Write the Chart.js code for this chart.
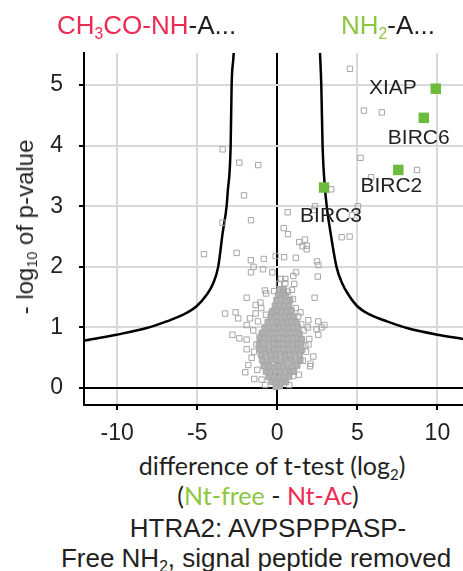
<!DOCTYPE html>
<html>
<head>
<meta charset="utf-8">
<script src="https://cdn.jsdelivr.net/npm/chart.js@4.4.0/dist/chart.umd.min.js"></script>
<style>
  body { margin: 0; width: 463px; height: 571px; background: #fff; overflow: hidden; position: relative; font-family: "Liberation Sans", Arial, sans-serif; color: #231f20; }
  #wrap { position: absolute; left: 0; top: 0; width: 463px; height: 450px; }
  .t { position: absolute; white-space: nowrap; transform: translateX(-50%); }
  .red { color: #ec2a52; }
  .green { color: #8dc63f; }
  sub { font-size: 0.6em; vertical-align: -0.3em; line-height: 0; }
</style>
</head>
<body>
<div id="wrap"><canvas id="volcano" width="463" height="450"></canvas></div>

<div style="position:absolute; left:57px; top:12px; font-size:26px; line-height:26px; white-space:nowrap;"><span class="red">CH<sub>3</sub>CO-NH</span>-A...</div>
<div style="position:absolute; left:341px; top:12px; font-size:26px; line-height:26px; white-space:nowrap;"><span class="green">NH<sub>2</sub></span>-A...</div>

<div style="position:absolute; left:25px; top:227px; font-size:24px; line-height:26px; white-space:nowrap; transform: translate(-50%,-50%) rotate(-90deg);">- log<sub>10</sub> of p-value</div>

<div class="t" style="left:272px; top:451px; font-family: Lato, 'Open Sans', sans-serif; font-size:25px; line-height:28px;">difference of t-test (log<sub>2</sub>)</div>
<div class="t" style="left:268px; top:481px; font-family: Lato, 'Open Sans', sans-serif; font-size:25px; line-height:28px;">(<span class="green">Nt-free</span> - <span class="red">Nt-Ac</span>)</div>
<div class="t" style="left:268px; top:514px; font-size:26px; line-height:28px;">HTRA2: AVPSPPPASP-</div>
<div class="t" style="left:256px; top:544px; font-size:26px; line-height:28px;">Free NH<sub>2</sub>, signal peptide removed</div>

<script>
// proteins of interest (green)
const hitNames = ['XIAP', 'BIRC6', 'BIRC2', 'BIRC3'];
const hitX = [9.9, 9.15, 7.56, 2.92];
const hitY = [4.94, 4.46, 3.6, 3.31];

// other proteins, scattered ones
const grayX = [-3.41, -2.37, -1.19, -2.08, -3.42, -1.64, -4.58, -2.54, -1.65, -0.84, -0.1, 0.43, 1.16, 2.48, 2.57,
  0.65, 0.4, 0.67, 1.37, 1.73, 1.58, 1.84, 1.84, 2.36, 2.3, 3.37, 4.02, 4.52, 4.54, 5.41, 6.53, 5.2, 8.73, 5.86, 5.04, 4.67,
  -1.48, -0.89, -1.64, -0.31, 1.17, 2.53, 1.0, 0.23, 0.5, 0.5, 1.06, -0.77, -0.69, 0.38, 0.67, 0.92,
  -1.91, 2.33, 0.98, -1.05, -1.35, -1.0, 1.16, -3.26, -2.6, -2.44, -1.35, -0.71, -0.35, 0.59, 1.31, 1.94, 2.56, 2.94, 2.77, 2.46,
  -1.91, -2.8, -2.37, -1.91, 2.56, 2.0, -1.91, -1.6, -1.81, 2.25, 2.08, 2.04, -2.0, -1.44, -0.98, 1.0,
  -1.5, -1.3, -1.45, 1.75, 1.65, 1.8, -1.2, 1.5, -1.25, 1.35, -0.75, 0.75, 1.9, -1.7, 1.45, 0.1, -0.2, 1.6, -1.1, 1.95];
const grayY = [3.94, 3.72, 3.68, 3.18, 2.73, 2.77, 2.21, 2.23, 2.11, 2.13, 2.18, 2.16, 2.15, 2.09, 2.03,
  2.9, 2.64, 2.54, 2.41, 2.45, 2.34, 2.35, 2.29, 3.0, 2.94, 3.28, 2.49, 2.5, 5.27, 4.58, 4.55, 3.8, 3.6, 3.48, 3.0, 2.85,
  2.0, 1.96, 1.91, 1.91, 1.91, 1.84, 1.85, 1.8, 1.8, 1.73, 1.72, 1.61, 1.56, 1.58, 1.59, 1.62,
  1.49, 1.49, 1.47, 1.41, 1.37, 1.32, 1.32, 1.23, 1.25, 1.15, 1.23, 1.21, 1.24, 1.26, 1.18, 1.12, 1.1, 1.04, 1.0, 0.97,
  1.04, 0.88, 0.82, 0.8, 0.88, 0.81, 0.64, 0.5, 0.38, 0.52, 0.4, 0.36, 0.26, 0.15, 0.14, 0.2,
  0.95, 0.72, 0.6, 0.7, 0.95, 0.6, 1.1, 1.05, 0.3, 0.22, 0.05, 0.05, 1.0, 1.15, 1.25, 1.72, 1.6, 0.45, 0.85, 0.72];

// other proteins, dense cloud around zero
const denseX = [-0.1, 0.15, -0.35, -0.05, 0.27, 0.55, -0.55, -0.22, 0.1, 0.42, 0.74,
  -0.7, -0.4, -0.12, 0.2, 0.48, 0.82, 1.05, -0.85, -0.53, -0.27, 0.05, 0.36, 0.66, 0.93, 1.25,
  -0.95, -0.66, -0.34, -0.06, 0.26, 0.54, 0.86, 1.14, 1.44, -1.02, -0.7, -0.41, -0.09, 0.2, 0.52, 0.79, 1.12, 1.4,
  -1.1, -0.79, -0.5, -0.21, 0.11, 0.39, 0.71, 1.0, 1.29, 1.55, -1.15, -0.86, -0.54, -0.26, 0.06, 0.34, 0.66, 0.94, 1.26, 1.5,
  -1.08, -0.8, -0.51, -0.19, 0.1, 0.41, 0.69, 1.01, 1.3, 1.54, -0.96, -0.64, -0.36, -0.04, 0.25, 0.56, 0.84, 1.16, 1.39,
  -0.79, -0.5, -0.21, 0.1, 0.39, 0.71, 1.0, 1.29, -0.6, -0.31, 0.01, 0.29, 0.61, 0.9, 1.2,
  -0.41, -0.09, 0.2, 0.51, 0.79, 1.05, -0.3, 0.01, 0.3, 0.61, 0.89, -0.15, 0.16, 0.45, 0.74,
  -0.05, 0.24, 0.56, 0.8, 0.05, 0.31, 0.55, 0.15, 0.41];
const denseY = [0.02, 0.03, 0.1, 0.11, 0.09, 0.1, 0.18, 0.19, 0.17, 0.18, 0.19,
  0.27, 0.26, 0.28, 0.27, 0.26, 0.28, 0.27, 0.36, 0.37, 0.35, 0.36, 0.37, 0.35, 0.36, 0.37,
  0.46, 0.45, 0.47, 0.46, 0.45, 0.46, 0.47, 0.45, 0.46, 0.55, 0.56, 0.54, 0.55, 0.56, 0.54, 0.55, 0.56, 0.55,
  0.64, 0.65, 0.63, 0.64, 0.65, 0.64, 0.63, 0.65, 0.64, 0.63, 0.73, 0.72, 0.74, 0.73, 0.72, 0.74, 0.73, 0.72, 0.73, 0.74,
  0.82, 0.83, 0.81, 0.82, 0.83, 0.82, 0.81, 0.83, 0.82, 0.81, 0.91, 0.92, 0.9, 0.91, 0.92, 0.9, 0.91, 0.92, 0.9,
  1.0, 1.01, 0.99, 1.0, 1.01, 0.99, 1.0, 1.01, 1.09, 1.08, 1.1, 1.09, 1.08, 1.1, 1.09,
  1.18, 1.19, 1.17, 1.18, 1.19, 1.18, 1.27, 1.28, 1.26, 1.27, 1.28, 1.36, 1.37, 1.35, 1.36,
  1.45, 1.46, 1.44, 1.45, 1.54, 1.55, 1.53, 1.62, 1.63];

// significance threshold curves
const curveLeftX = [-2.72, -2.75, -2.85, -2.91, -3.1, -3.16, -3.41, -3.69, -4.0, -4.41, -5.04, -5.88, -6.91, -8.16, -10.04, -12.07];
const curveLeftY = [5.53, 5.42, 5.0, 4.01, 3.22, 3.01, 2.56, 2.0, 1.73, 1.54, 1.35, 1.21, 1.1, 0.99, 0.88, 0.78];
const curveRightX = [2.67, 2.75, 2.83, 2.98, 3.09, 3.33, 3.7, 4.05, 4.45, 5.0, 5.8, 6.85, 8.1, 10.0, 11.6];
const curveRightY = [5.53, 5.0, 4.0, 3.3, 3.0, 2.56, 2.0, 1.73, 1.54, 1.35, 1.21, 1.1, 0.99, 0.88, 0.81];

const xTicks = [-10, -5, 0, 5, 10];
const yTicks = [0, 1, 2, 3, 4, 5];

const pts = (xs, ys) => xs.map((x, i) => ({ x: x, y: ys[i] }));

const labelPlugin = {
  id: 'hitLabels',
  afterDatasetsDraw(chart) {
    const ctx = chart.ctx;
    const xs = chart.scales.x, ys = chart.scales.y;
    // text placement relative to each green square
    const place = {
      XIAP: { dx: -19, dy: -1, align: 'right' },
      BIRC6: { dx: -5, dy: 20, align: 'center' },
      BIRC2: { dx: -7, dy: 16, align: 'center' },
      BIRC3: { dx: 7, dy: 29, align: 'center' }
    };
    ctx.save();
    ctx.font = '21px "Liberation Sans", Arial, sans-serif';
    ctx.fillStyle = '#231f20';
    ctx.textBaseline = 'middle';
    hitNames.forEach((name, i) => {
      const p = place[name];
      ctx.textAlign = p.align;
      ctx.fillText(name, xs.getPixelForValue(hitX[i]) + p.dx, ys.getPixelForValue(hitY[i]) + p.dy);
    });
    ctx.restore();
  }
};

const gridColor = (ctx) => (ctx.tick && ctx.tick.value === 0 ? '#000' : '#d9d9d9');

new Chart(document.getElementById('volcano'), {
  type: 'scatter',
  data: {
    datasets: [
      {
        data: pts(curveLeftX, curveLeftY), showLine: true, pointRadius: 0,
        borderColor: '#000', borderWidth: 2.5, cubicInterpolationMode: 'monotone', order: 4
      },
      {
        data: pts(curveRightX, curveRightY), showLine: true, pointRadius: 0,
        borderColor: '#000', borderWidth: 2.5, cubicInterpolationMode: 'monotone', order: 4
      },
      {
        data: pts(denseX, denseY), pointStyle: 'rect', pointRadius: 3.8,
        backgroundColor: '#b2b2b2', borderColor: '#a6a6a6', borderWidth: 1, order: 3
      },
      {
        data: pts(grayX, grayY), pointStyle: 'rect', pointRadius: 3.8,
        backgroundColor: 'rgba(255,255,255,0)', borderColor: '#a6a6a6', borderWidth: 1, order: 2
      },
      {
        data: pts(hitX, hitY), pointStyle: 'rect', pointRadius: 7.4,
        backgroundColor: '#6cbb3c', borderColor: '#6cbb3c', borderWidth: 0, order: 1
      }
    ]
  },
  options: {
    responsive: false,
    animation: false,
    devicePixelRatio: 1,
    layout: { autoPadding: false, padding: { top: 53, right: 0, bottom: 0, left: 0 } },
    plugins: { legend: { display: false }, tooltip: { enabled: false } },
    scales: {
      x: {
        type: 'linear', min: -12.07, max: 11.6,
        afterBuildTicks: (s) => { s.ticks = xTicks.map(v => ({ value: v })); },
        afterFit: (s) => { s.height = 45; s.paddingLeft = 0; s.paddingRight = 0; },
        grid: { color: gridColor, lineWidth: 2, tickColor: '#000', tickLength: 5, tickWidth: 2 },
        border: { color: '#000', width: 2 },
        ticks: { color: '#231f20', padding: 10, font: { family: '"Liberation Sans", Arial, sans-serif', size: 23 } }
      },
      y: {
        type: 'linear', min: -0.28, max: 5.53,
        afterBuildTicks: (s) => { s.ticks = yTicks.map(v => ({ value: v })); },
        afterFit: (s) => { s.width = 84; s.paddingTop = 0; s.paddingBottom = 0; },
        grid: { color: gridColor, lineWidth: 2, tickColor: '#000', tickLength: 5, tickWidth: 2 },
        border: { color: '#000', width: 2 },
        ticks: { color: '#231f20', padding: 16, font: { family: '"Liberation Sans", Arial, sans-serif', size: 23 } }
      }
    }
  },
  plugins: [labelPlugin]
});
</script>
</body>
</html>
